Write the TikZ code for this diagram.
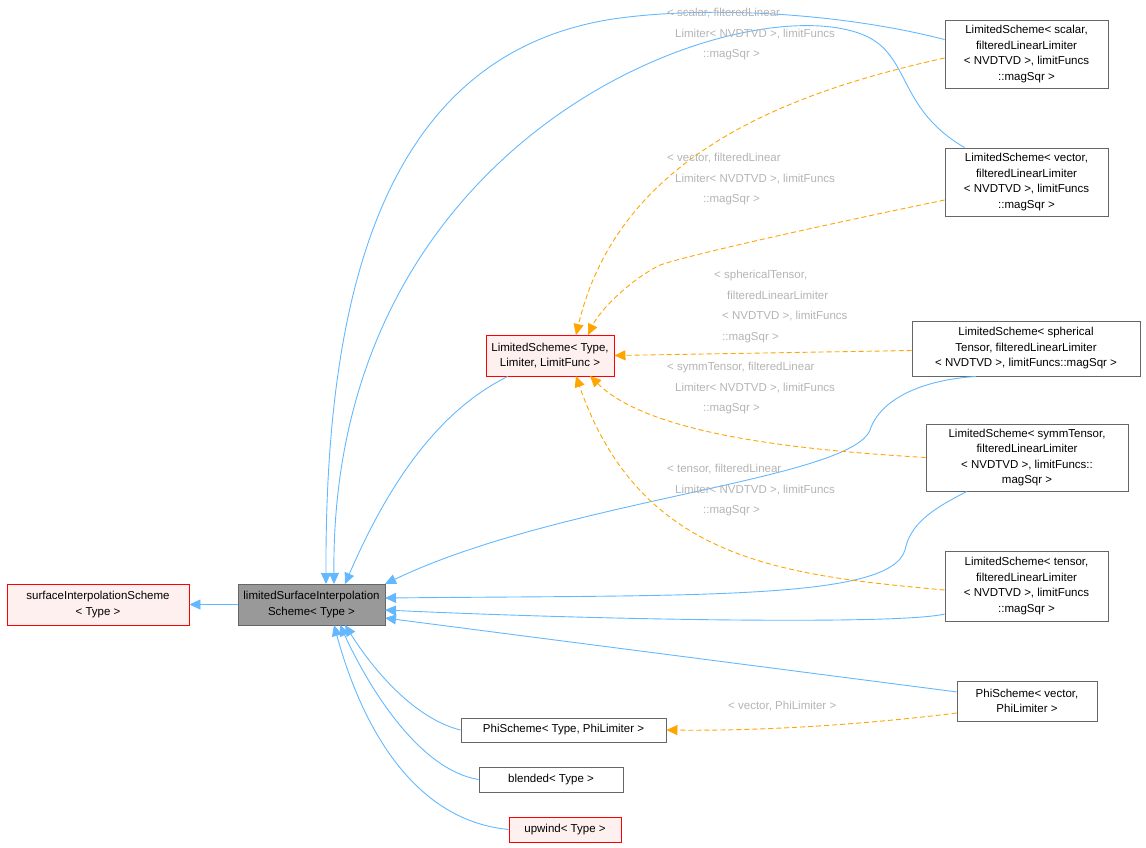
\documentclass[tikz,border=0pt]{standalone}
\usepackage{fontspec}
\setmainfont{Liberation Sans}
\usetikzlibrary{arrows.meta}
\definecolor{edgeB}{HTML}{63B8FF}
\definecolor{edgeO}{HTML}{FFA500}
\definecolor{lblG}{HTML}{B4B4B4}
\definecolor{redB}{HTML}{FF0000}
\definecolor{pinkF}{HTML}{FFF0F0}
\definecolor{grayF}{HTML}{999999}
\definecolor{boxB}{HTML}{666666}
\tikzset{
  cls/.style={draw=boxB, fill=white, line width=0.9pt, inner sep=1pt, align=center,
    font=\fontsize{11.5}{15.5}\selectfont},
  red/.style={cls, draw=redB, fill=pinkF},
  cur/.style={cls, fill=grayF},
  inh/.style={edgeB, line width=0.9pt, -{Triangle[length=11pt,width=10pt]}},
  tpl/.style={edgeO, line width=0.9pt, dashed, dash pattern=on 5pt off 3pt, -{Triangle[length=11pt,width=10pt]}},
  lbl/.style={text=lblG, align=left, inner sep=0pt, font=\fontsize{11.5}{20.5}\selectfont, anchor=north west},
}
\begin{document}
\begin{tikzpicture}[x=1pt,y=-1pt]
  \useasboundingbox (0,0) rectangle (1146,847);
  % nodes
  \node[red, minimum width=182, minimum height=41] (SIS) at (98,604.5) {surfaceInterpolationScheme\\< Type >};
  \node[cur, minimum width=147, minimum height=41] (LSIS) at (311.5,604.5) {limitedSurfaceInterpolation\\Scheme< Type >};
  \node[red, minimum width=128, minimum height=41] (LS) at (550,355.5) {LimitedScheme< Type,\\Limiter, LimitFunc >};
  \node[cls, minimum width=163, minimum height=68] (LSs) at (1026.5,54) {LimitedScheme< scalar,\\ filteredLinearLimiter\\< NVDTVD >, limitFuncs\\::magSqr >};
  \node[cls, minimum width=163, minimum height=68] (LSv) at (1026.5,182) {LimitedScheme< vector,\\ filteredLinearLimiter\\< NVDTVD >, limitFuncs\\::magSqr >};
  \node[cls, minimum width=228, minimum height=55] (LSst) at (1026,348.5) {LimitedScheme< spherical\\Tensor, filteredLinearLimiter\\< NVDTVD >, limitFuncs::magSqr >};
  \node[cls, minimum width=202, minimum height=67] (LSsy) at (1027,457.5) {LimitedScheme< symmTensor,\\ filteredLinearLimiter\\< NVDTVD >, limitFuncs::\\magSqr >};
  \node[cls, minimum width=163, minimum height=70] (LSt) at (1026.5,586) {LimitedScheme< tensor,\\ filteredLinearLimiter\\< NVDTVD >, limitFuncs\\::magSqr >};
  \node[cls, minimum width=140, minimum height=40] (PSv) at (1027,701) {PhiScheme< vector,\\PhiLimiter >};
  \node[cls, minimum width=205, minimum height=24] (PS) at (563.5,730) {PhiScheme< Type, PhiLimiter >};
  \node[cls, minimum width=144, minimum height=25] (BL) at (551,779.5) {blended< Type >};
  \node[red, minimum width=112, minimum height=25] (UW) at (565,829.5) {upwind< Type >};
  % inheritance
  \draw[inh] (LSIS) -- (SIS);
  \draw[inh] (LS) .. controls (440,410) and (390,480) .. (345,584);
  \draw[inh] (LSs.170) .. controls (850,15) and (720,5) .. (620,18) .. controls (380,50) and (325,300) .. (326,584);
  \draw[inh] (LSv.north west) ++(20,0) .. controls (900,110) and (910,60) .. (870,38) .. controls (760,-20) and (330,120) .. (334,584);
  \draw[inh] (LSst.south) ++(-50,0) .. controls (920,380) and (880,400) .. (870,430) .. controls (850,480) and (560,500) .. (385,584);
  \draw[inh] (LSsy.south) ++(-60,0) .. controls (930,510) and (910,525) .. (905,550) .. controls (890,600) and (700,595) .. (385,598);
  \draw[inh] (LSt.west) ++(0,28) .. controls (900,625) and (600,620) .. (385,610);
  \draw[inh] (PSv) -- (385,618);
  \draw[inh] (PS.west) .. controls (420,720) and (380,680) .. (345,625);
  \draw[inh] (BL.west) .. controls (420,770) and (370,690) .. (340,625);
  \draw[inh] (UW.west) .. controls (410,820) and (360,720) .. (334,625);
  % templates
  \draw[tpl] (LSs.west) ++(0,4) .. controls (800,90) and (620,150) .. (576,335);
  \draw[tpl] (LSv.west) ++(0,18) .. controls (800,230) and (690,255) .. (660,265) .. controls (630,280) and (600,310) .. (588,335);
  \draw[tpl] (LSst.west) ++(0,2) -- (LS.east);
  \draw[tpl] (LSsy.west) .. controls (800,450) and (650,435) .. (590,376);
  \draw[tpl] (LSt.west) ++(0,4) .. controls (780,575) and (640,560) .. (576,376);
  \draw[tpl] (PSv.west) ++(0,12) .. controls (860,725) and (760,731) .. (PS.east);
  % labels
  \node[lbl] (Ls) at (667,8) {< scalar, filteredLinear\\\hspace*{8pt}Limiter< NVDTVD >, limitFuncs\\\hspace*{36pt}::magSqr >};
  \node[lbl] (Lv) at (667,153) {< vector, filteredLinear\\\hspace*{8pt}Limiter< NVDTVD >, limitFuncs\\\hspace*{36pt}::magSqr >};
  \node[lbl] (Lst) at (714,270) {< sphericalTensor,\\\hspace*{13pt}filteredLinearLimiter\\\hspace*{8pt}< NVDTVD >, limitFuncs\\\hspace*{8pt}::magSqr >};
  \node[lbl] (Lsy) at (667,362) {< symmTensor, filteredLinear\\\hspace*{8pt}Limiter< NVDTVD >, limitFuncs\\\hspace*{36pt}::magSqr >};
  \node[lbl] (Lt) at (667,464) {< tensor, filteredLinear\\\hspace*{8pt}Limiter< NVDTVD >, limitFuncs\\\hspace*{36pt}::magSqr >};
  \node[lbl] (Lp) at (728,701) {< vector, PhiLimiter >};
\end{tikzpicture}
\end{document}
